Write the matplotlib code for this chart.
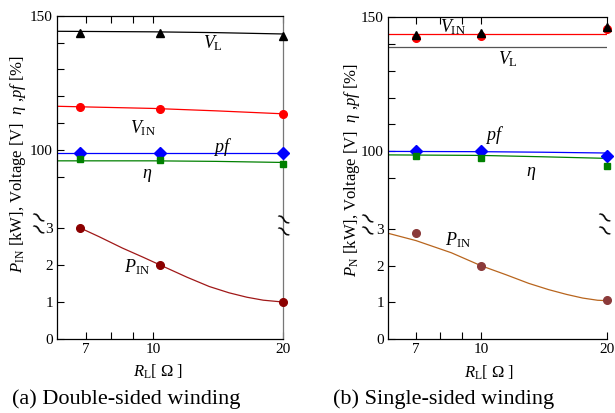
import numpy as np
import matplotlib
matplotlib.use("Agg")
import matplotlib.pyplot as plt
from matplotlib.ticker import FixedLocator, NullFormatter

plt.rcParams["font.family"] = "Liberation Serif"
plt.rcParams["mathtext.fontset"] = "custom"
plt.rcParams["mathtext.rm"] = "Liberation Serif"
plt.rcParams["mathtext.it"] = "Liberation Serif:italic"

# ---- (a) double-sided winding: measured points
rl_a = [6.8, 10.4, 20]
vl_a = [143.4, 143.4, 142.6]
vin_a = [116.1, 115.2, 113.3]
pf_a = [98.8, 98.8, 98.8]
eta_a = [96.5, 96.3, 95.0]
pin_a = [3.0, 2.0, 1.0]

# (a) trend lines
fit_x_a = [6.0, 10.0, 14.0, 20.0]
vl_fit_a = [144.2, 144.0, 143.7, 143.2]
vin_fit_a = [116.3, 115.5, 114.6, 113.5]
pf_fit_a = [99.0, 99.0, 99.0, 99.0]
eta_fit_a = [96.0, 96.0, 95.8, 95.4]
pin_fit_x_a = [6.8, 7.5, 8.5, 9.5, 10.4, 12, 13.5, 15, 16.5, 18, 20]
pin_fit_a = [3.0, 2.77, 2.46, 2.21, 2.0, 1.67, 1.42, 1.25, 1.13, 1.05, 1.0]

# ---- (b) single-sided winding: measured points
rl_b = [7, 10, 20]
vl_b = [143.4, 144.2, 146.4]
vin_b = [142.3, 143.2, 145.8]
pf_b = [100.0, 100.0, 98.1]
eta_b = [98.1, 97.4, 94.3]
pin_b = [2.9, 2.0, 1.06]

# (b) trend lines
fit_x_b = [6.0, 10.0, 14.0, 20.0]
vl_fit_b = [139.0, 139.0, 139.0, 139.0]
vin_fit_b = [143.6, 143.6, 143.6, 143.6]
pf_fit_b = [99.9, 99.8, 99.6, 99.3]
eta_fit_b = [98.6, 98.4, 97.9, 97.3]
pin_fit_x_b = [6, 7, 8.5, 10, 11.5, 13, 14.5, 16, 17.5, 19, 20]
pin_fit_b = [2.88, 2.68, 2.35, 2.0, 1.75, 1.52, 1.35, 1.22, 1.12, 1.06, 1.05]

x_ticks = [7, 10, 20]
y_ticks = [0, 1, 2, 3, 100, 150]
y_minor = [90, 110, 120, 130, 140]


# broken y axis: 0-3 kW below, 80-150 V/% above
def fwd(v):
    v = np.asarray(v, float)
    return np.where(v <= 3, v,
                    np.where(v >= 80, 5.11 + (v - 100) * 0.0727,
                             3 + (v - 3) * (0.656 / 77)))


def inv(u):
    u = np.asarray(u, float)
    return np.where(u <= 3, u,
                    np.where(u >= 3.656, 100 + (u - 5.11) / 0.0727,
                             3 + (u - 3) * 77 / 0.656))


fig = plt.figure(figsize=(6.15, 4.13), dpi=100)
ax_a = fig.add_axes([57 / 615, 1 - 339 / 413, 226 / 615, 323.3 / 413])
ax_b = fig.add_axes([388 / 615, 1 - 339.3 / 413, 219 / 615, 322 / 413])

for ax in (ax_a, ax_b):
    ax.set_xscale("log")
    ax.set_yscale("function", functions=(fwd, inv))
    ax.set_xlim(6, 20)
    ax.set_ylim(0, 150)
    ax.xaxis.set_major_locator(FixedLocator(x_ticks))
    ax.set_xticklabels([str(t) for t in x_ticks])
    ax.xaxis.set_minor_locator(FixedLocator([8, 9]))
    ax.xaxis.set_minor_formatter(NullFormatter())
    ax.yaxis.set_major_locator(FixedLocator(y_ticks))
    ax.set_yticklabels([str(t) for t in y_ticks])
    ax.yaxis.set_minor_locator(FixedLocator(y_minor))
    ax.yaxis.set_minor_formatter(NullFormatter())
    ax.tick_params(which="both", direction="in", top=True, right=False,
                   length=5, width=0.8, labelsize=11, pad=3)
    for s in ax.spines.values():
        s.set_linewidth(0.9)

ax_a.spines["right"].set_color("#777777")
ax_b.spines["right"].set_visible(False)

lw = 0.9
mk = dict(clip_on=False, zorder=3)

# (a)
ax_a.plot(fit_x_a, vl_fit_a, color="black", lw=lw)
ax_a.plot(fit_x_a, vin_fit_a, color="red", lw=lw)
ax_a.plot(fit_x_a, pf_fit_a, color="blue", lw=lw)
ax_a.plot(fit_x_a, eta_fit_a, color="green", lw=lw)
ax_a.plot(pin_fit_x_a, pin_fit_a, color="#a01818", lw=lw)
ax_a.plot(rl_a, vl_a, "^", color="black", ms=6, **mk)
ax_a.plot(rl_a, vin_a, "o", color="red", ms=5.5, **mk)
ax_a.plot(rl_a, pf_a, "D", color="blue", ms=6, **mk)
ax_a.plot(rl_a, eta_a, "s", color="green", ms=5, **mk)
ax_a.plot(rl_a, pin_a, "o", color="#8b0000", ms=5.5, **mk)

# (b)
ax_b.plot(fit_x_b, vl_fit_b, color="#555555", lw=lw)
ax_b.plot(fit_x_b, vin_fit_b, color="red", lw=lw)
ax_b.plot(fit_x_b, pf_fit_b, color="blue", lw=lw)
ax_b.plot(fit_x_b, eta_fit_b, color="green", lw=lw)
ax_b.plot(pin_fit_x_b, pin_fit_b, color="#b8651e", lw=lw)
ax_b.plot(rl_b, vin_b, "o", color="red", ms=5.5, **mk)
ax_b.plot(rl_b, vl_b, "^", color="black", ms=6, **mk)
ax_b.plot(rl_b, pf_b, "D", color="blue", ms=6, **mk)
ax_b.plot(rl_b, eta_b, "s", color="green", ms=5, **mk)
ax_b.plot(rl_b, pin_b, "o", color="#8b3a3a", ms=5.5, **mk)

lab = dict(ha="center", va="center", fontsize=13)
ax_a.text(13.8, 139.8, r"$V_{\rm L}$", **lab)
ax_a.text(9.5, 108.2, r"$V_{\rm IN}$", **lab)
ax_a.text(14.5, 101.3, r"$pf$", **lab)
ax_a.text(9.7, 90.7, r"$\eta$", **lab)
ax_a.text(9.2, 1.95, r"$P_{\rm IN}$", **lab)

ax_b.text(8.6, 146.3, r"$V_{\rm IN}$", **lab)
ax_b.text(11.6, 134.3, r"$V_{\rm L}$", **lab)
ax_b.text(10.8, 106.0, r"$pf$", **lab)
ax_b.text(13.2, 91.6, r"$\eta$", **lab)
ax_b.text(8.8, 2.70, r"$P_{\rm IN}$", **lab)

ax_a.text(0.447, -0.102, r"$R_{\rm L}$[ Ω ]", transform=ax_a.transAxes,
          ha="center", va="center", fontsize=12)
ax_b.text(0.461, -0.103, r"$R_{\rm L}$[ Ω ]", transform=ax_b.transAxes,
          ha="center", va="center", fontsize=12)

ylab_a = r"$P_{\rm IN}$ [kW], Voltage [V]  $\eta$ ,$pf$ [%]"
ylab_b = r"$P_{\rm N}$ [kW], Voltage [V]  $\eta$ ,$pf$ [%]"
fig.text(18 / 615, 1 - 164 / 413, ylab_a, rotation=90, ha="center",
         va="center", fontsize=12)
fig.text(352 / 615, 1 - 170 / 413, ylab_b, rotation=90, ha="center",
         va="center", fontsize=12)

# axis-break marks
for px, py in [(37, 219), (37, 231), (282, 221), (282, 233),
               (366, 220), (366, 232), (603, 219), (603, 232)]:
    fig.text(px / 615, 1 - py / 413, "~", rotation=-40, ha="center",
             va="center", fontsize=15, family="DejaVu Sans")

fig.text(12 / 615, 1 - 399 / 413, "(a) Double-sided winding", ha="left",
         va="center", fontsize=16)
fig.text(333 / 615, 1 - 399 / 413, "(b) Single-sided winding", ha="left",
         va="center", fontsize=16)

fig.savefig("out.png", dpi=100)
